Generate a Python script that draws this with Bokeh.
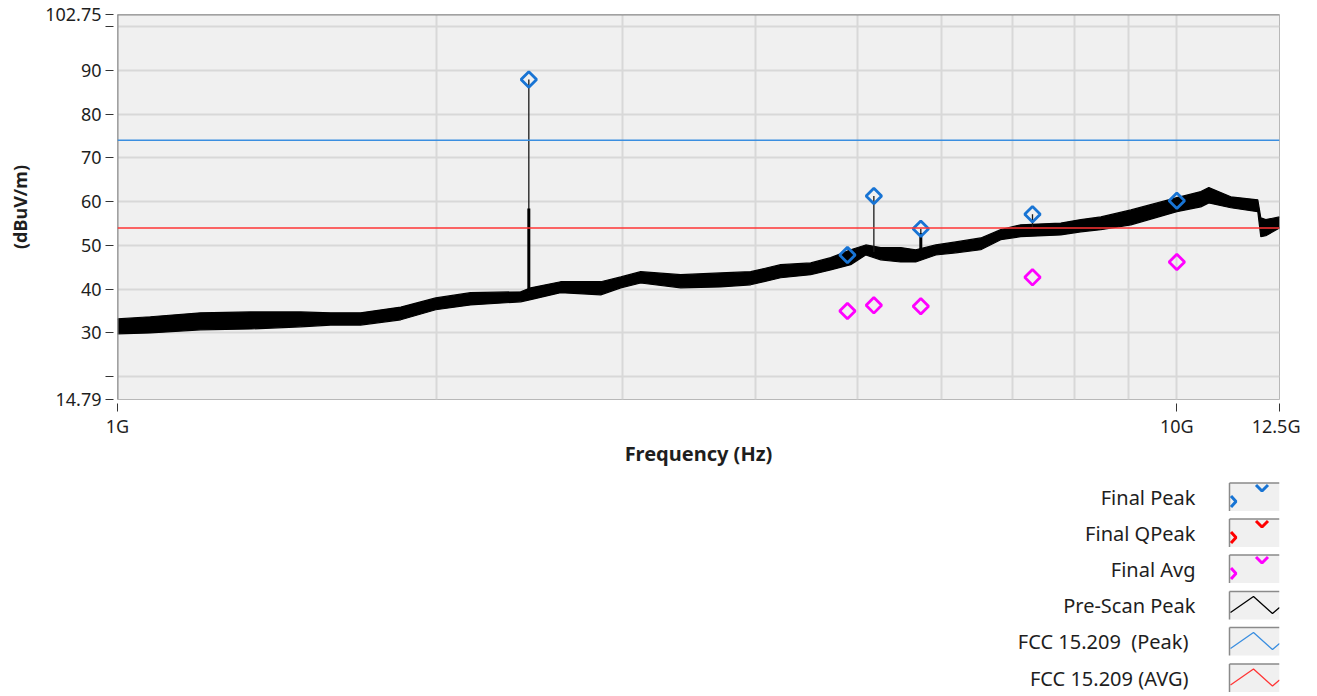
from bokeh.plotting import figure
from bokeh.layouts import column
from bokeh.models import Range1d, FixedTicker, Span
from bokeh.core.properties import value
from bokeh.embed import file_html
from bokeh.resources import INLINE

FONT = "Noto Sans"

# ---------------- data (frequencies in GHz, levels in dBuV/m) ----------------
trace_ghz = [1.000, 1.074, 1.198, 1.336, 1.489, 1.589, 1.696, 1.851, 1.997, 2.154,
             2.402, 2.455, 2.620, 2.859, 2.986, 3.118, 3.401, 3.710, 3.960, 4.227,
             4.512, 4.712, 4.922, 5.085, 5.254, 5.487, 5.669, 5.922, 6.185, 6.530,
             6.820, 7.123, 7.771, 8.117, 8.478, 9.050, 10.000, 10.535, 10.720, 11.245,
             11.924, 12.002, 12.133, 12.500]
trace_hi = [33.2, 33.7, 34.6, 34.8, 34.8, 34.6, 34.6, 35.9, 38.0, 39.2,
            39.4, 40.3, 41.7, 41.7, 42.8, 44.0, 43.3, 43.7, 44.0, 45.6,
            46.0, 47.2, 49.0, 50.1, 49.5, 49.5, 49.0, 50.1, 50.8, 51.7,
            53.6, 54.7, 55.1, 55.9, 56.5, 58.1, 60.9, 62.3, 63.2, 61.1,
            60.4, 56.3, 55.9, 56.5]
trace_lo = [29.8, 30.0, 30.7, 30.9, 31.4, 31.8, 31.8, 33.0, 35.3, 36.4,
            37.1, 37.6, 39.2, 38.7, 40.3, 41.4, 40.3, 40.5, 41.0, 42.6,
            43.3, 44.4, 45.6, 47.8, 46.7, 46.2, 46.2, 47.8, 48.3, 49.0,
            51.3, 52.0, 52.4, 53.1, 53.6, 54.7, 57.7, 58.8, 59.7, 58.6,
            57.7, 52.0, 52.2, 54.0]

spike_ghz = [2.445, 5.176, 5.732, 7.307]
spike_base = [39.0, 48.5, 48.0, 54.0]
spike_top = [87.9, 61.3, 53.8, 57.1]
spike_thick_ghz = [2.445, 5.732]
spike_thick_base = [39.0, 48.0]
spike_thick_top = [58.4, 52.8]

peak_ghz = [2.445, 4.887, 5.176, 5.732, 7.307, 10.0]
peak_db = [87.9, 47.8, 61.3, 53.8, 57.1, 60.2]

avg_ghz = [4.887, 5.176, 5.732, 7.307, 10.0]
avg_db = [35.0, 36.3, 36.1, 42.7, 46.2]

fcc_peak_limit = 74.0
fcc_avg_limit = 54.0

x_ticks = [1, 10, 12.5]
x_tick_labels = ["1G", "10G", "12.5G"]
x_grid = [2, 3, 4, 5, 6, 7, 8, 9, 10]
y_ticks = [14.79, 20, 30, 40, 50, 60, 70, 80, 90, 100, 102.75]
y_tick_labels = ["14.79", "", "30", "40", "50", "60", "70", "80", "90", "", "102.75"]

legend_names = ["Final Peak", "Final QPeak", "Final Avg", "Pre-Scan Peak",
                "FCC 15.209\u00a0 (Peak)", "FCC 15.209 (AVG)"]
legend_colors = ["#1874d4", "#ff0000", "#ff00ff", "#000000", "#3a8ee0", "#ff3535"]

C_PEAK = "#1874d4"
C_AVG = "#ff00ff"
TXT = "#1e1e1e"

# ---------------- main chart ----------------
W = 1300
BL, BR = 117, 21
MAIN_H = 470
p = figure(width=W, height=MAIN_H, x_axis_type="log",
           x_range=Range1d(1, 12.5), y_range=Range1d(14.79, 102.75),
           output_backend="svg", toolbar_location=None,
           min_border_left=BL, min_border_right=BR, min_border_top=14, min_border_bottom=71,
           background_fill_color="#f0f0f0", border_fill_color="white")
p.outline_line_color = "#b8b8b8"

p.xaxis.ticker = FixedTicker(ticks=x_ticks)
p.xaxis.major_label_overrides = {k: v for k, v in zip(x_ticks, x_tick_labels)}
p.yaxis.ticker = FixedTicker(ticks=y_ticks)
p.yaxis.major_label_overrides = {k: v for k, v in zip(y_ticks, y_tick_labels)}
p.xgrid.ticker = FixedTicker(ticks=x_grid)
p.grid.grid_line_color = "#d8d8d8"
p.grid.grid_line_width = 2

for ax in (p.xaxis, p.yaxis):
    ax.axis_line_color = None
    ax.major_tick_in = -4
    ax.major_tick_out = 12
    ax.major_tick_line_color = "#333333"
    ax.major_tick_line_width = 1
    ax.minor_tick_line_color = None
    ax.major_label_text_font = FONT
    ax.major_label_text_font_size = "18px"
    ax.major_label_text_color = TXT
    ax.axis_label_text_font = FONT
    ax.axis_label_text_font_style = "bold"
    ax.axis_label_text_color = TXT

p.xaxis.major_label_standoff = 2
p.yaxis.major_label_standoff = 4
p.xaxis.axis_label = "Frequency (Hz)"
p.xaxis.axis_label_text_font_size = "20px"
p.xaxis.axis_label_standoff = -1
p.yaxis.axis_label = "(dBuV/m)"
p.yaxis.axis_label_text_font_size = "18px"
p.yaxis.axis_label_standoff = 10

# darker left / top frame edges
p.add_layout(Span(location=1, dimension="height", line_color="#8a8a8a", line_width=2))
p.add_layout(Span(location=102.75, dimension="width", line_color="#8a8a8a", line_width=2))

# limit lines
p.add_layout(Span(location=fcc_peak_limit, dimension="width", line_color="#3a8ee0", line_width=1.5))
p.add_layout(Span(location=fcc_avg_limit, dimension="width", line_color="#ff3535", line_width=1.5))

# pre-scan trace
p.varea(x=trace_ghz, y1=trace_lo, y2=trace_hi, fill_color="black")
p.line(x=trace_ghz, y=trace_hi, line_color="black", line_width=1.2)
p.line(x=trace_ghz, y=trace_lo, line_color="black", line_width=1.2)
p.segment(x0=spike_ghz, y0=spike_base, x1=spike_ghz, y1=spike_top, line_color="#1a1a1a", line_width=1.3)
p.segment(x0=spike_thick_ghz, y0=spike_thick_base, x1=spike_thick_ghz, y1=spike_thick_top,
          line_color="black", line_width=3)

# final markers
p.scatter(x=peak_ghz, y=peak_db, marker="square", angle=0.7854, size=11,
          fill_color=None, line_color=C_PEAK, line_width=2.8)
p.scatter(x=avg_ghz, y=avg_db, marker="square", angle=0.7854, size=11,
          fill_color=None, line_color=C_AVG, line_width=2.8)

# ---------------- legend area (page pixel coordinates) ----------------
LEG_TOP = MAIN_H
LEG_H = 224
leg = figure(width=W, height=LEG_H, x_range=Range1d(BL, W - BR),
             y_range=Range1d(LEG_TOP + LEG_H, LEG_TOP),
             output_backend="svg", toolbar_location=None,
             min_border_left=BL, min_border_right=BR, min_border_top=0, min_border_bottom=0,
             x_axis_location=None, y_axis_location=None,
             background_fill_color="white", border_fill_color="white")
leg.outline_line_color = None
leg.grid.visible = False

row_c = [496.5, 532.5, 568.5, 605, 641, 677.5]
label_x = [1195, 1195, 1195, 1195, 1188, 1188]
leg.text(x=label_x, y=row_c, text=legend_names, text_align="right", text_baseline="middle",
         text_font=value(FONT), text_font_size="20px", text_color=TXT)

bx0, bx1 = 1229, 1279
hh = 14
leg.quad(left=[bx0] * 6, right=[bx1] * 6, top=[c - hh for c in row_c], bottom=[c + hh for c in row_c],
         fill_color="#f0f0f0", line_color=None)
leg.segment(x0=[bx0] * 6, y0=[c - hh for c in row_c], x1=[bx1] * 6, y1=[c - hh for c in row_c],
            line_color="#8a8a8a", line_width=1.5)
leg.segment(x0=[bx0] * 6, y0=[c - hh for c in row_c], x1=[bx0] * 6, y1=[c + hh for c in row_c],
            line_color="#8a8a8a", line_width=1.5)

# marker-style icons (partial diamonds)
mx, my, mc = [], [], []
for c, col in zip(row_c[:3], legend_colors[:3]):
    mx.append([bx0 + 1.5, bx0 + 6.5, bx0 + 1.5]); my.append([c - 1, c + 4.5, c + 10]); mc.append(col)
    mx.append([1255.5, 1261.5, 1267.5]); my.append([c - 12, c - 6, c - 12]); mc.append(col)
leg.multi_line(xs=mx, ys=my, line_color=mc, line_width=3)

# line-style icons
lx, ly, lc = [], [], []
for c, col in zip(row_c[3:], legend_colors[3:]):
    lx.append([bx0 + 1, 1253, 1272, 1279]); ly.append([c + 7, c - 9, c + 8, c + 2]); lc.append(col)
leg.multi_line(xs=lx, ys=ly, line_color=lc, line_width=1.3)

layout = column(p, leg)
open("out.html", "w").write(file_html(layout, INLINE))
